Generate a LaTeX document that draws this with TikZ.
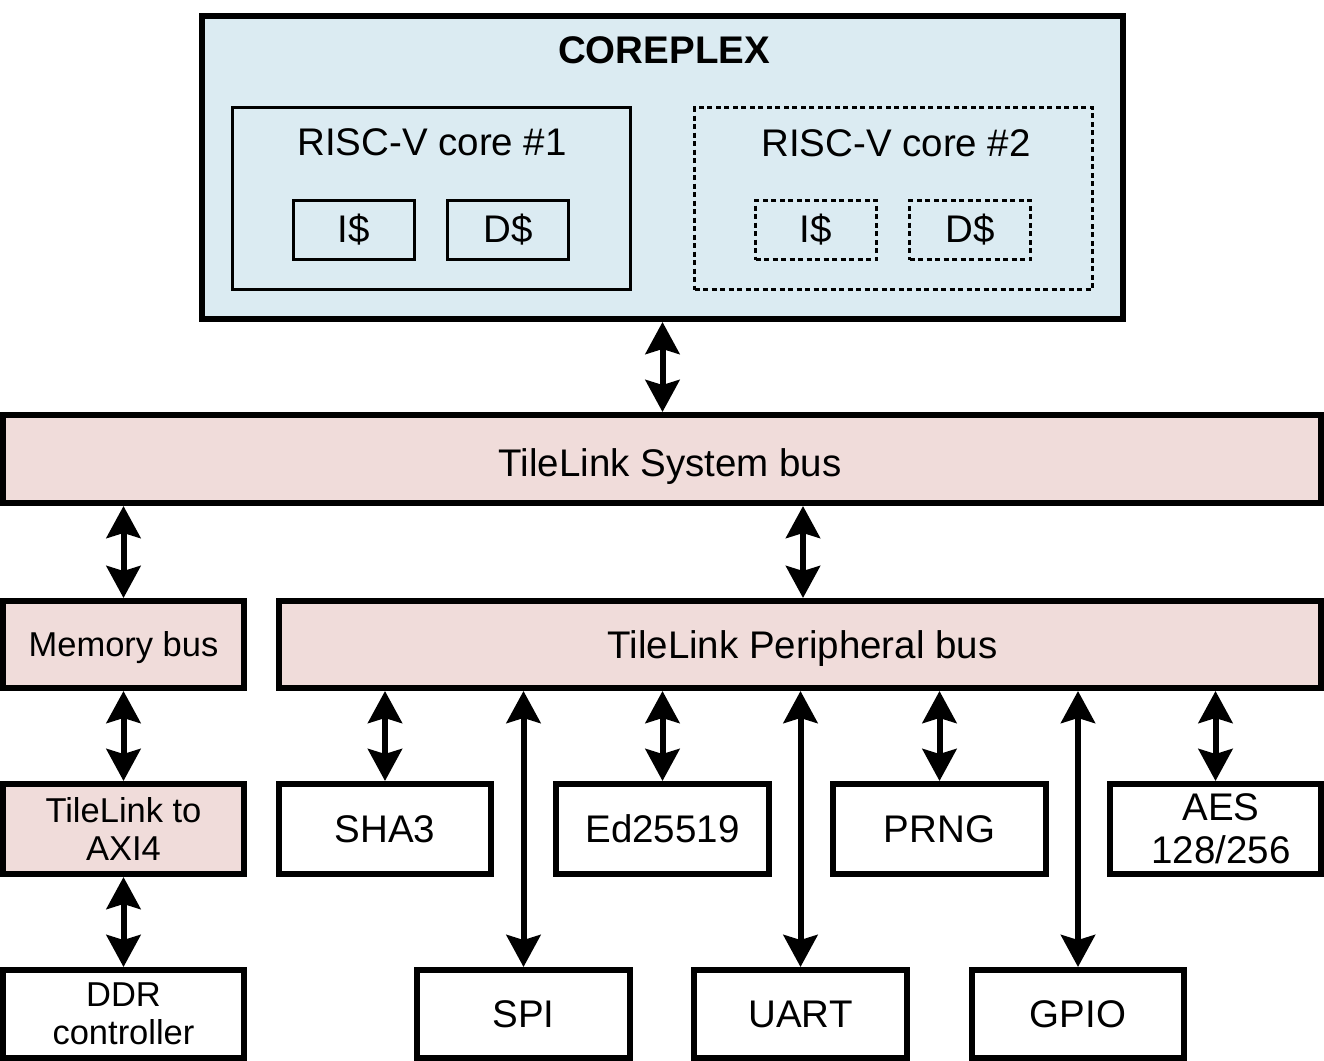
\documentclass[tikz,border=0pt]{standalone}
\usepackage{fontspec}
\setmainfont{Liberation Sans}
\usetikzlibrary{arrows.meta}
\definecolor{coreblue}{HTML}{DBEBF2}
\definecolor{buspink}{HTML}{F0DCDA}
\tikzset{
  bigfont/.style={font=\fontsize{38.5}{43}\selectfont},
  leftfont/.style={font=\fontsize{34.5}{38}\selectfont},
  bigcaps/.style={bigfont, text height=27.6pt, text depth=0pt},
  leftcaps/.style={leftfont, text height=24.7pt, text depth=0pt},
  heavybox/.style={draw, line width=6pt, rectangle, inner sep=0pt, align=center, bigfont},
  thinbox/.style={draw, line width=3pt, rectangle, inner sep=0pt, align=center, bigfont},
  dotbox/.style={thinbox, dash pattern=on 5pt off 3.5pt},
  busbox/.style={heavybox, fill=buspink},
  biarrow/.style={line width=6pt,
    {Stealth[length=32pt,width=34pt,inset=5pt]}-{Stealth[length=32pt,width=34pt,inset=5pt]}},
}
\begin{document}
\begin{tikzpicture}[x=1pt, y=-1pt]
  \useasboundingbox[fill=white] (0,0) rectangle (1324,1060);

  % coreplex with its two cores
  \node[heavybox, fill=coreblue, minimum width=921, minimum height=303] (coreplex) at (662.5,167.5) {};
  \node[anchor=base, font=\fontsize{38.5}{43}\selectfont\bfseries] (coretitle) at (664,63) {COREPLEX};

  \node[thinbox, minimum width=398, minimum height=182] (core1) at (431.5,198.5) {};
  \node[anchor=base, bigfont] (core1label) at (432,155) {RISC-V core \#1};
  \node[thinbox, minimum width=121, minimum height=59] (icache1) at (354,230) {I\$};
  \node[thinbox, minimum width=121, minimum height=59] (dcache1) at (508,230) {D\$};

  \node[dotbox, minimum width=398, minimum height=182] (core2) at (893.5,198.5) {};
  \node[anchor=base, bigfont] (core2label) at (896,156) {RISC-V core \#2};
  \node[dotbox, minimum width=121, minimum height=59] (icache2) at (816,230) {I\$};
  \node[dotbox, minimum width=121, minimum height=59] (dcache2) at (970,230) {D\$};

  % buses
  \node[busbox, minimum width=1318, minimum height=88] (sysbus) at (662,459) {};
  \node[bigcaps, inner sep=0pt] (sysbuslabel) at (670,463) {TileLink System bus};
  \node[busbox, leftcaps, minimum width=241, minimum height=87] (membus) at (123.5,644.5) {Memory bus};
  \node[busbox, minimum width=1042, minimum height=87] (pbus) at (800,644.5) {};
  \node[bigcaps, inner sep=0pt] (pbuslabel) at (802.5,645) {TileLink Peripheral bus};

  % memory path
  \node[busbox, leftfont, minimum width=241, minimum height=90] (tlaxi) at (123.5,829) {TileLink to\\AXI4};
  \node[heavybox, leftfont, minimum width=241, minimum height=88] (ddr) at (123.5,1014) {DDR\\controller};

  % peripherals
  \node[heavybox, bigcaps, minimum width=212, minimum height=90] (sha3) at (385,829) {SHA3};
  \node[heavybox, bigcaps, minimum width=213, minimum height=90] (ed) at (662.5,829) {Ed25519};
  \node[heavybox, bigcaps, minimum width=213, minimum height=90] (prng) at (939.5,829) {PRNG};
  \node[heavybox, minimum width=211, minimum height=90] (aes) at (1215.5,829) {};
  \node[align=center, bigfont, inner sep=0pt] (aeslabel) at (1221,829) {AES\\128/256};
  \node[heavybox, bigcaps, minimum width=213, minimum height=88] (spi) at (523.5,1014) {SPI};
  \node[heavybox, bigcaps, minimum width=213, minimum height=88] (uart) at (800.5,1014) {UART};
  \node[heavybox, bigcaps, minimum width=212, minimum height=88] (gpio) at (1078,1014) {GPIO};

  % connections
  \draw[biarrow] (coreplex.south) -- (coreplex.south |- sysbus.north);
  \draw[biarrow] (sysbus.south -| membus.north) -- (membus.north);
  \draw[biarrow] ([xshift=3pt]pbus.north |- sysbus.south) -- ([xshift=3pt]pbus.north);
  \draw[biarrow] (membus.south) -- (tlaxi.north);
  \draw[biarrow] (tlaxi.south) -- (ddr.north);
  \foreach \p in {sha3,spi,ed,uart,prng,gpio,aes}
    \draw[biarrow] (pbus.south -| \p.north) -- (\p.north);
\end{tikzpicture}
\end{document}
